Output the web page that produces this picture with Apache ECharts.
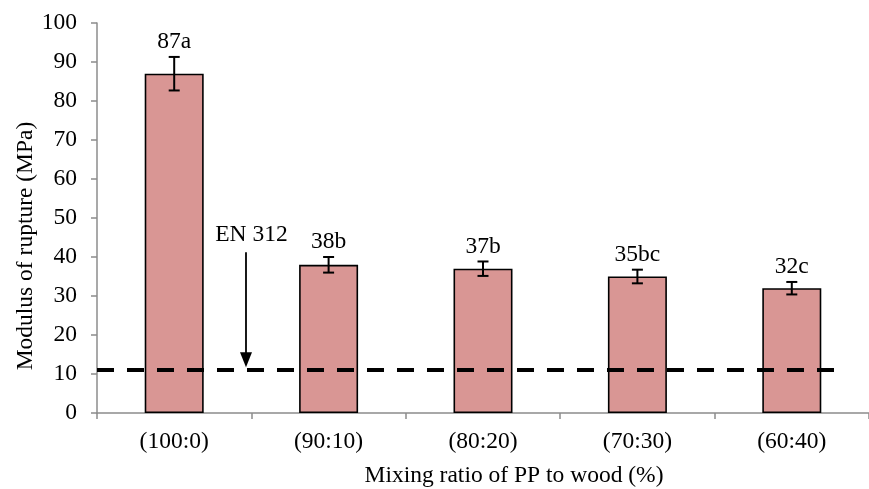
<!DOCTYPE html>
<html>
<head>
<meta charset="utf-8">
<script src="https://cdn.jsdelivr.net/npm/echarts@6/dist/echarts.min.js"></script>
<style>html,body{margin:0;padding:0;background:#fff}#c{width:869px;height:489px}</style>
</head>
<body>
<div id="c"></div>
<script>
const categories = ['(100:0)', '(90:10)', '(80:20)', '(70:30)', '(60:40)'];
const values = [87, 38, 37, 35, 32];
const errors = [4.3, 2.0, 1.85, 1.75, 1.6];
const barLabels = ['87a', '38b', '37b', '35bc', '32c'];
const yTicks = [0, 10, 20, 30, 40, 50, 60, 70, 80, 90, 100];
const thresholdValue = 11;
const thresholdExtent = [0, 4.81];      // along hidden 0..5 category-span axis
const arrowX = 0.965;
const arrowFrom = 41.2;
const arrowTo = 11.7;
const annotationText = 'EN 312';
const annotationPos = [1.0, 45.6];
const xTitle = 'Mixing ratio of PP to wood (%)';
const yTitle = 'Modulus of rupture (MPa)';

const FONT = 'Liberation Serif';
const FS = 23.5;
const chart = echarts.init(document.getElementById('c'), null, {renderer: 'canvas'});

const option = {
  backgroundColor: '#fff',
  animation: false,
  textStyle: {fontFamily: FONT},
  grid: {left: 97, right: -9, top: 23, bottom: 76, containLabel: false},
  xAxis: [{
    type: 'category',
    data: categories,
    axisLine: {lineStyle: {color: '#8c8c8c', width: 1.5}},
    axisTick: {show: true, length: 6, inside: false, lineStyle: {color: '#8c8c8c', width: 1.5}},
    axisLabel: {color: '#000', fontFamily: FONT, fontSize: FS, margin: 17},
    splitLine: {show: false}
  }, {
    type: 'value', min: 0, max: 5, show: false
  }],
  yAxis: [{
    type: 'value', min: yTicks[0], max: yTicks[yTicks.length - 1], interval: 10,
    axisLine: {show: true, lineStyle: {color: '#8c8c8c', width: 1.5}},
    axisTick: {show: true, length: 6, lineStyle: {color: '#8c8c8c', width: 1.5}},
    axisLabel: {color: '#000', fontFamily: FONT, fontSize: FS, margin: 20},
    splitLine: {show: false}
  }],
  graphic: [
    {type: 'text', x: 514, y: 476, style: {text: xTitle, font: FS + 'px "' + FONT + '"', fill: '#000', textAlign: 'center', textVerticalAlign: 'middle'}},
    {type: 'text', rotation: Math.PI / 2, x: 26, y: 246, style: {text: yTitle, font: FS + 'px "' + FONT + '"', fill: '#000', textAlign: 'center', textVerticalAlign: 'middle'}}
  ],
  series: [{
    type: 'bar',
    data: values,
    barWidth: 59,
    itemStyle: {color: '#d99694', borderColor: '#000', borderWidth: 1.6},
    z: 2
  }, {
    type: 'custom',
    data: categories.map((c, i) => [i, values[i] - errors[i], values[i] + errors[i]]),
    renderItem: function (params, api) {
      const i = api.value(0);
      const lo = api.coord([i, api.value(1)]);
      const hi = api.coord([i, api.value(2)]);
      const cw = 5.5;
      const st = {stroke: '#000', lineWidth: 2};
      return {type: 'group', children: [
        {type: 'line', shape: {x1: lo[0], y1: lo[1], x2: hi[0], y2: hi[1]}, style: st},
        {type: 'line', shape: {x1: lo[0] - cw, y1: lo[1], x2: lo[0] + cw, y2: lo[1]}, style: st},
        {type: 'line', shape: {x1: hi[0] - cw, y1: hi[1], x2: hi[0] + cw, y2: hi[1]}, style: st},
        {type: 'text', x: hi[0], y: hi[1] - 3, style: {text: barLabels[params.dataIndex], font: FS + 'px "' + FONT + '"', fill: '#000', textAlign: 'center', textVerticalAlign: 'bottom'}}
      ]};
    },
    z: 5
  }, {
    type: 'line',
    xAxisIndex: 1,
    data: thresholdExtent.map(x => [x, thresholdValue]),
    symbol: 'none',
    lineStyle: {color: '#000', width: 4, type: [17, 13], opacity: 1},
    z: 4
  }, {
    type: 'custom',
    xAxisIndex: 1,
    data: [[arrowX, arrowFrom, arrowTo, annotationPos[0], annotationPos[1]]],
    renderItem: function (params, api) {
      const a = api.coord([api.value(0), api.value(1)]);
      const b = api.coord([api.value(0), api.value(2)]);
      const t = api.coord([api.value(3), api.value(4)]);
      const hw = 6, hl = 15;
      return {type: 'group', children: [
        {type: 'line', shape: {x1: a[0], y1: a[1], x2: b[0], y2: b[1] - hl + 1}, style: {stroke: '#000', lineWidth: 1.8}},
        {type: 'polygon', shape: {points: [[b[0] - hw, b[1] - hl], [b[0] + hw, b[1] - hl], [b[0], b[1]]]}, style: {fill: '#000'}},
        {type: 'text', x: t[0], y: t[1], style: {text: annotationText, font: FS + 'px "' + FONT + '"', fill: '#000', textAlign: 'center', textVerticalAlign: 'middle'}}
      ]};
    },
    z: 6
  }]
};
chart.setOption(option);
</script>
</body>
</html>
